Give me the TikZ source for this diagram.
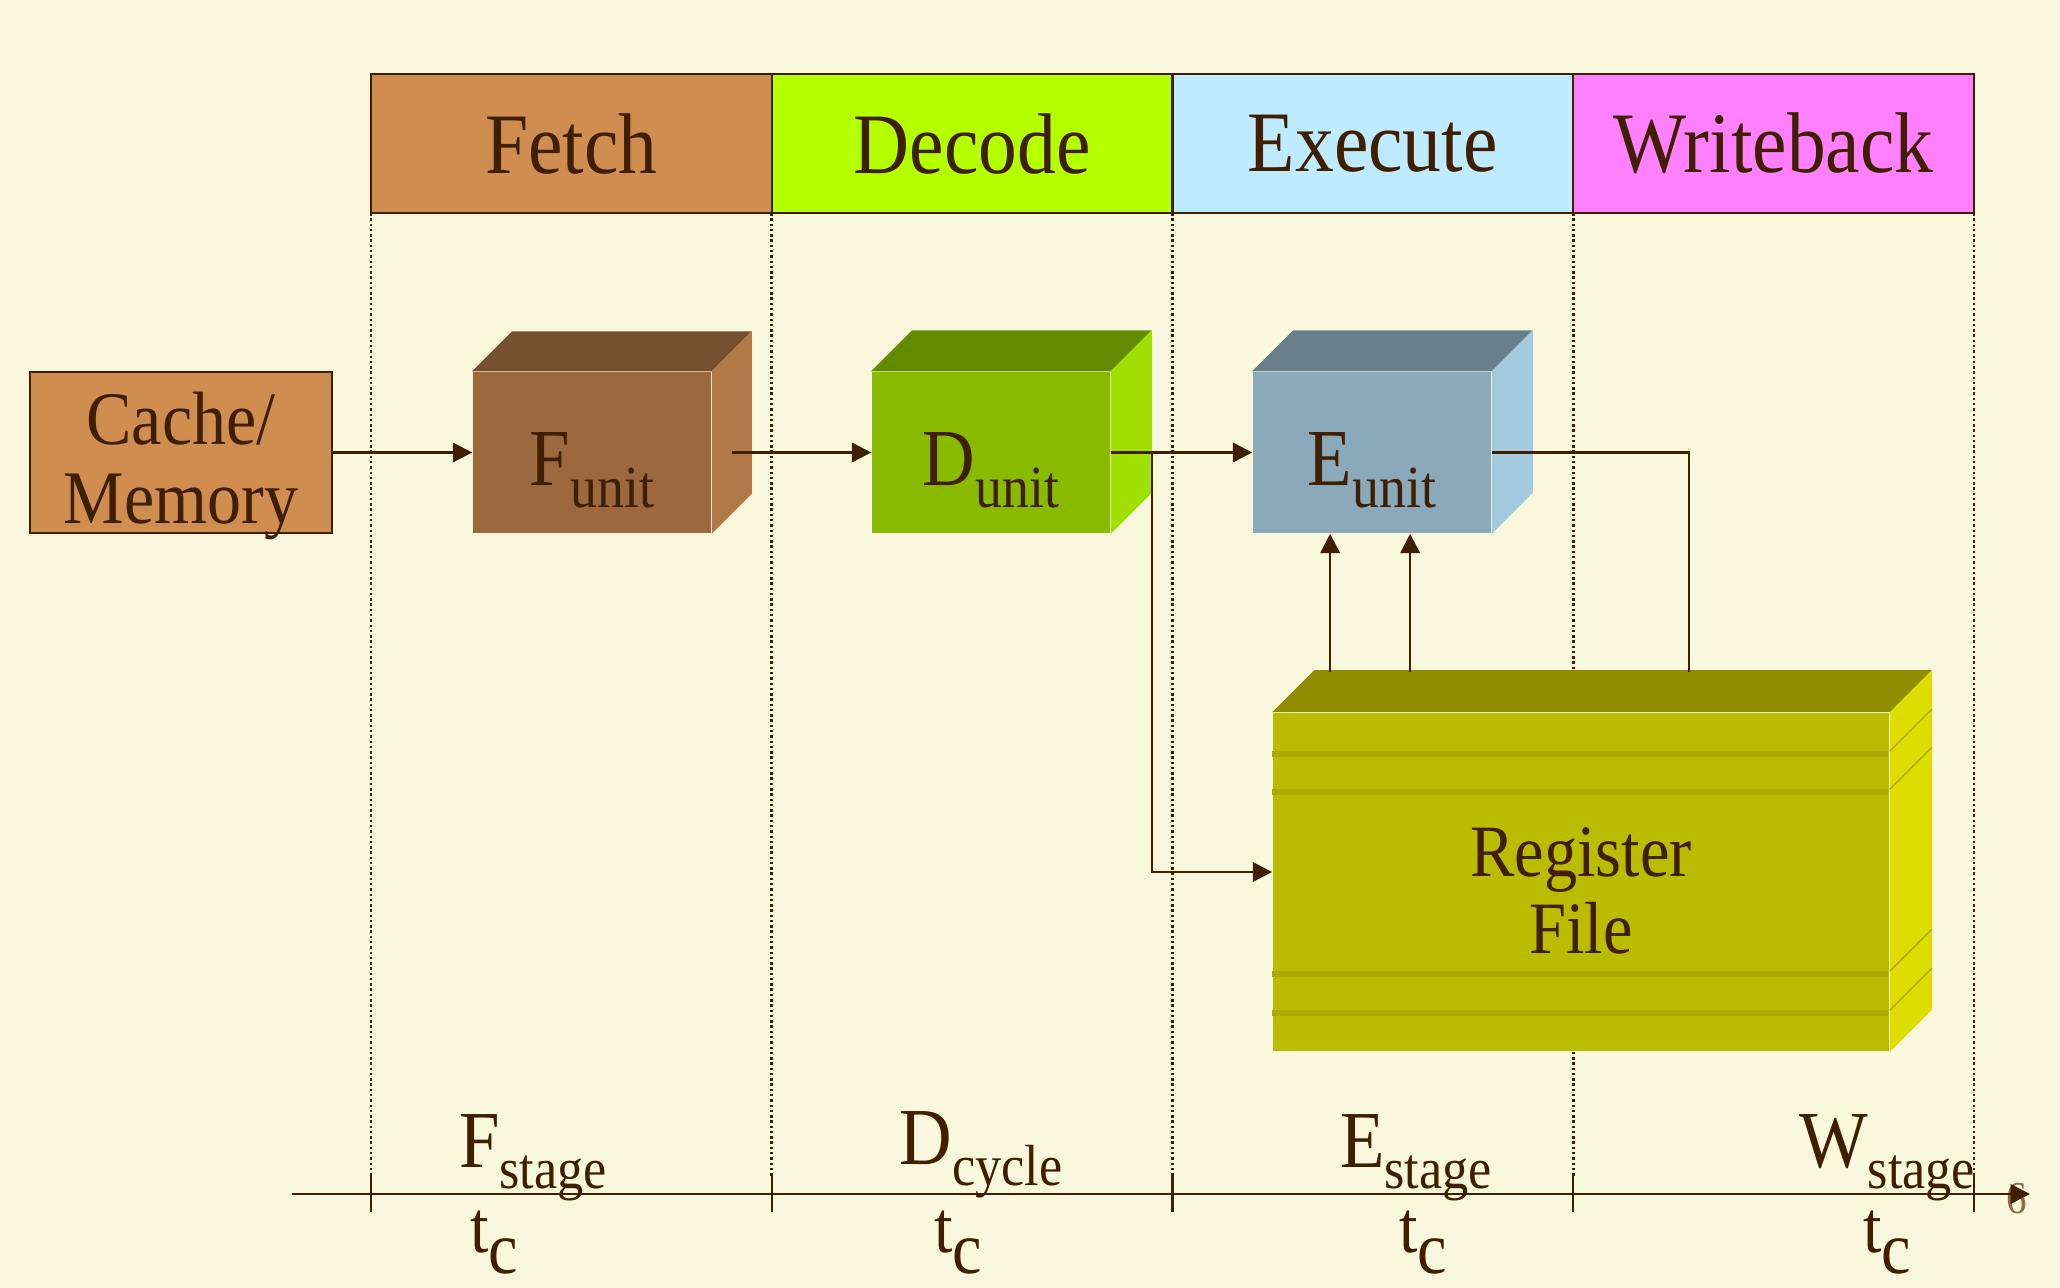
\documentclass[tikz,border=0pt]{standalone}
\usepackage{fontspec}
\setmainfont{Liberation Serif}[FakeStretch=0.9]
\usetikzlibrary{arrows.meta,calc,positioning}

\definecolor{bgcream}{HTML}{FAF8DC}
\definecolor{ink}{HTML}{3F1F00}
\definecolor{pagec}{HTML}{8C6A4B}
\definecolor{fetchc}{HTML}{D08D50}
\definecolor{decodec}{HTML}{B4FF00}
\definecolor{executec}{HTML}{BEEBFF}
\definecolor{writec}{HTML}{FF80FF}
\definecolor{funitc}{HTML}{9C693E}
\definecolor{funittop}{HTML}{744F30}
\definecolor{funitside}{HTML}{B27A48}
\definecolor{dunitc}{HTML}{88BB00}
\definecolor{dunittop}{HTML}{638C00}
\definecolor{dunitside}{HTML}{A0E000}
\definecolor{eunitc}{HTML}{8AA9BB}
\definecolor{eunittop}{HTML}{697F8C}
\definecolor{eunitside}{HTML}{A4CAE0}
\definecolor{regc}{HTML}{BBBB00}
\definecolor{regtop}{HTML}{8E8E00}
\definecolor{regside}{HTML}{DDDD00}
\definecolor{regstripe}{HTML}{AAAA00}

% lowered, smaller second part of a label
\newcommand{\lowsub}[2][17]{\raisebox{-6pt}{\fontsize{#1}{#1}\selectfont #2}}
% top and side faces of a box drawn from its front node
\newcommand{\cubefaces}[4]{%
  \fill[#3] (#1.north west) -- ++(#2,-#2) -- ($(#1.north east)+(#2,-#2)$) -- (#1.north east) -- cycle;
  \fill[#4] (#1.north east) -- ++(#2,-#2) -- ($(#1.south east)+(#2,-#2)$) -- (#1.south east) -- cycle;}

\begin{document}
\begin{tikzpicture}[x=0.01cm, y=-0.01cm, text=ink,
  stagehead/.style={draw=ink, line width=0.6pt, outer sep=0pt, inner sep=0pt,
    minimum width=4.005cm, minimum height=1.39cm, font=\fontsize{24.5}{26}\selectfont},
  unitface/.style={inner sep=0pt, minimum width=2.38cm, minimum height=1.61cm,
    text height=22pt, text depth=3pt, font=\fontsize{23}{24}\selectfont},
  flow/.style={draw=ink, line width=0.7pt, -{Triangle[length=5.5pt,width=5.5pt]}},
  wire/.style={draw=ink, line width=0.7pt},
  gridline/.style={draw=ink, line width=0.8pt, dash pattern=on 0.7pt off 0.8pt},
  stagelbl/.style={anchor=base, inner sep=0pt, font=\fontsize{23}{24}\selectfont}]

\fill[bgcream] (0,0) rectangle (2060,1288);
\useasboundingbox (0,0) rectangle (2060,1288);

% pipeline stages
\node[stagehead, fill=fetchc, anchor=north west] (fetch) at (371,74) {Fetch};
\node[stagehead, fill=decodec, right=0pt of fetch] (decode) {Decode};
\node[stagehead, fill=executec, right=0pt of decode] (execute) {Execute};
\node[stagehead, fill=writec, right=0pt of execute] (writeback) {Writeback};

\coordinate (axstart) at (292,1194);
\coordinate (axend) at (2030,1194);
\foreach \n in {fetch,decode,execute,writeback}
  \draw[gridline] (\n.south west) -- (\n.south west |- 0,1176);
\draw[gridline] (writeback.south east) -- (writeback.south east |- 0,1176);

% units
\node[fill=fetchc, draw=ink, line width=0.8pt, inner sep=0pt, minimum width=3.02cm,
  minimum height=1.61cm, label={[align=center, inner sep=0pt, yshift=-3.7pt,
  font=\fontsize{21.5}{22.5}\selectfont]center:Cache/\\Memory}] (cache) at (181,452.5) {};

\node[unitface, fill=funitc] (funit) at (592,452.5) {F\lowsub{unit}};
\cubefaces{funit}{40}{funittop}{funitside}
\node[unitface, fill=dunitc] (dunit) at (991,452.5) {D\lowsub{unit}};
\cubefaces{dunit}{41}{dunittop}{dunitside}
\node[unitface, fill=eunitc] (eunit) at (1372,452.5) {E\lowsub{unit}};
\cubefaces{eunit}{41}{eunittop}{eunitside}

\node[fill=regc, inner sep=0pt, minimum width=6.16cm, minimum height=3.38cm, align=center,
  font=\fontsize{21}{22}\selectfont] (regfile) at (1581,882) {\rule{0pt}{19pt}Register\\File};
\cubefaces{regfile}{42}{regtop}{regside}
\foreach \sy in {39,77,259,298} {
  \fill[regstripe] ($(regfile.north west)+(0,\sy)$) rectangle ++(616,6);
  \draw[regstripe, line width=0.4pt] ($(regfile.north east)+(0,\sy)$) -- ++(42,-42);
}

% connections
\draw[flow] (cache.east) -- (funit.west);
\draw[flow] ($(funit.east)+(20,0)$) -- (dunit.west);
\draw[flow] (dunit.east) -- (eunit.west);
\coordinate (dsplit) at ($(dunit.east)+(41,0)$);
\draw[flow] (dsplit) |- ($(regfile.west)+(0,-10)$);
\draw[wire] (eunit.east) -| ($(regfile.north west)+(417,-40)$);
\coordinate (rdport1) at ($(regfile.north west)+(58,-40)$);
\coordinate (rdport2) at ($(regfile.north west)+(138,-40)$);
\draw[flow] (rdport1) -- (rdport1 |- eunit.south);
\draw[flow] (rdport2) -- (rdport2 |- eunit.south);

% time axis
\node[text=pagec, inner sep=0pt, font=\fontsize{13}{13}\selectfont] (pagenum) at (2017,1199) {6};
\draw[flow] (axstart) -- (axend);
\foreach \n in {fetch,decode,execute,writeback}
  \draw[wire] ($(\n.south west |- axstart)+(0,-18)$) -- ++(0,36);
\draw[wire] ($(writeback.south east |- axstart)+(0,-18)$) -- ++(0,36);

\node[stagelbl] (fstage) at (533,1167) {F\lowsub[16.5]{stage}};
\node[stagelbl] (dcycle) at (981,1164) {D\lowsub[16.5]{cycle}};
\node[stagelbl] (estage) at (1416,1167) {E\lowsub[16.5]{stage}};
\node[stagelbl] (wstage) at (1887,1167) {W\lowsub[16.5]{stage}};
\foreach \tx/\tn in {494/tcf,958/tcd,1423/tce,1887/tcw}
  \node[stagelbl, font=\fontsize{21}{22}\selectfont] (\tn) at (\tx,1252) {t\lowsub[21]{c}};
\end{tikzpicture}
\end{document}
